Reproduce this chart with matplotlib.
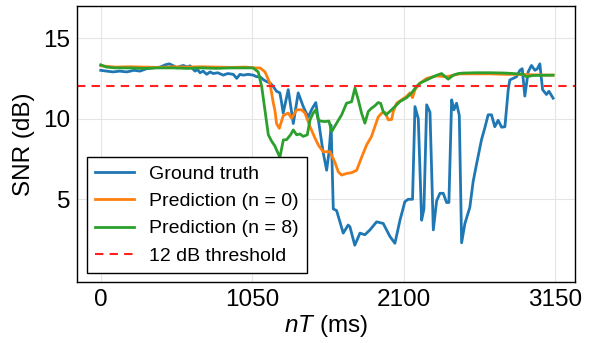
import matplotlib
matplotlib.use("Agg")
import matplotlib.pyplot as plt

plt.rcParams['font.family'] = ['Liberation Sans', 'DejaVu Sans']
plt.rcParams['mathtext.fontset'] = 'custom'
plt.rcParams['mathtext.rm'] = 'Liberation Sans'
plt.rcParams['mathtext.it'] = 'Liberation Sans:italic'

# ground truth SNR
t_gt = [0, 40, 87, 130, 180, 230, 272, 318, 360, 411, 450, 475, 500, 526, 550, 572, 600, 618, 653, 670,
        688, 710, 734, 757, 780, 810, 849, 880, 918, 942, 965, 988, 1020, 1057, 1080, 1103, 1130, 1150, 1175, 1195,
        1218, 1241, 1253, 1264, 1299, 1334, 1368, 1403, 1437, 1463, 1490, 1518, 1541, 1565, 1581, 1596, 1611, 1634, 1680, 1714,
        1726, 1760, 1796, 1830, 1865, 1911, 1957, 2003, 2038, 2073, 2107, 2130, 2160, 2177, 2200, 2223, 2239, 2258, 2281, 2304,
        2327, 2350, 2373, 2396, 2412, 2431, 2447, 2465, 2484, 2500, 2523, 2557, 2580, 2604, 2638, 2660, 2684, 2707, 2730, 2753,
        2777, 2800, 2823, 2834, 2857, 2880, 2904, 2920, 2938, 2961, 2984, 3008, 3025, 3042, 3061, 3088, 3105, 3134]
snr_gt = [13.0, 12.95, 12.9, 12.95, 12.9, 13.0, 12.95, 13.1, 13.15, 13.2, 13.35, 13.4, 13.3, 13.15, 13.25, 13.3, 13.2, 13.28, 12.95, 13.05,
          12.85, 12.95, 12.75, 12.9, 12.8, 12.85, 12.7, 12.8, 12.75, 12.5, 12.75, 12.7, 12.75, 12.7, 12.6, 12.6, 12.4, 12.3, 12.2, 12.0,
          11.7, 11.6, 11.0, 10.35, 11.8, 9.7, 11.6, 10.75, 10.1, 10.6, 11.0, 9.3, 7.9, 6.8, 7.9, 9.6, 4.4, 4.3, 2.9, 3.4,
          3.3, 2.15, 2.9, 2.8, 3.1, 3.6, 3.5, 2.7, 2.27, 3.7, 4.85, 5.0, 5.0, 10.75, 10.0, 3.7, 4.4, 10.86, 10.4, 3.1,
          4.9, 5.37, 5.37, 4.8, 4.8, 11.17, 10.55, 10.96, 10.2, 2.3, 3.5, 4.5, 6.1, 7.2, 8.7, 9.4, 10.24, 10.24, 9.5, 9.9,
          9.47, 9.5, 11.8, 12.4, 12.5, 12.6, 13.0, 13.1, 11.4, 12.9, 13.3, 13.0, 13.1, 13.4, 11.8, 11.5, 11.7, 11.27]

# prediction, n = 0
t_p0 = [0, 100, 200, 300, 400, 500, 600, 700, 800, 900, 1000, 1070, 1105, 1138, 1172, 1195, 1207, 1218, 1237, 1265,
        1299, 1322, 1357, 1391, 1415, 1450, 1484, 1507, 1541, 1588, 1622, 1646, 1669, 1703, 1738, 1773, 1807, 1842, 1876, 1899,
        1922, 1946, 1969, 1992, 2015, 2027, 2050, 2084, 2119, 2142, 2160, 2177, 2211, 2258, 2327, 2396, 2419, 2488, 2600, 2700,
        2800, 2900, 3000, 3134]
snr_p0 = [13.28, 13.2, 13.22, 13.2, 13.18, 13.22, 13.2, 13.22, 13.2, 13.18, 13.2, 13.15, 13.14, 12.9, 12.2, 11.0, 10.5, 9.7, 9.4, 10.2,
          10.35, 10.03, 10.55, 10.55, 10.35, 9.5, 8.8, 8.37, 7.95, 7.95, 7.3, 6.7, 6.5, 6.6, 6.65, 6.8, 7.6, 8.37, 8.9, 9.5,
          10.1, 10.34, 10.4, 9.93, 9.95, 10.45, 10.96, 11.17, 11.38, 11.6, 11.3, 11.8, 12.2, 12.5, 12.65, 12.6, 12.65, 12.78, 12.78, 12.78,
          12.75, 12.75, 12.72, 12.7]

# prediction, n = 8
t_p8 = [0, 40, 100, 200, 300, 400, 500, 600, 700, 800, 900, 1000, 1055, 1091, 1115, 1138, 1161, 1184, 1207, 1218,
        1241, 1265, 1288, 1315, 1334, 1357, 1380, 1403, 1431, 1450, 1472, 1490, 1507, 1523, 1553, 1581, 1600, 1634, 1669, 1703,
        1738, 1761, 1784, 1807, 1830, 1853, 1876, 1899, 1922, 1939, 1957, 1976, 2003, 2038, 2073, 2119, 2154, 2188, 2211, 2258,
        2315, 2361, 2407, 2442, 2477, 2511, 2600, 2700, 2800, 2857, 2927, 2949, 2996, 3134]
snr_p8 = [13.34, 13.2, 13.15, 13.15, 13.12, 13.15, 13.15, 13.12, 13.15, 13.12, 13.15, 13.15, 13.15, 12.9, 12.0, 10.5, 9.0, 8.6, 8.3, 8.06,
          7.6, 8.68, 8.7, 9.0, 9.3, 9.0, 9.05, 8.9, 9.0, 9.93, 10.35, 10.55, 9.93, 9.85, 9.82, 9.85, 9.2, 9.72, 10.24, 10.96,
          11.05, 11.9, 11.17, 10.34, 9.72, 10.44, 10.65, 10.8, 11.0, 10.95, 10.44, 10.24, 10.45, 10.75, 11.06, 11.3, 11.6, 12.0, 12.2, 12.4,
          12.65, 12.8, 12.45, 12.7, 12.8, 12.83, 12.85, 12.85, 12.83, 12.8, 12.75, 12.6, 12.68, 12.7]

threshold = 12
xticks = [0, 1050, 2100, 3150]
yticks = [5, 10, 15]

fig = plt.figure(figsize=(5.95, 3.43), dpi=100)
ax = fig.add_axes([0.130, 0.177, 0.836, 0.806])

ax.plot(t_gt, snr_gt, color='#1f77b4', lw=2, label='Ground truth')
ax.plot(t_p0, snr_p0, color='#ff7f0e', lw=2, label='Prediction (n = 0)')
ax.plot(t_p8, snr_p8, color='#2ca02c', lw=2, label='Prediction (n = 8)')
ax.axhline(threshold, color='#ff2020', ls='--', lw=1.5, dashes=(4, 3), label='12 dB threshold')

ax.set_xlim(-162, 3284)
ax.set_ylim(-0.15, 17)
ax.set_xticks(xticks)
ax.set_yticks(yticks)
ax.tick_params(labelsize=17.5, length=0, pad=5)
ax.grid(True, color='#e5e5e5', lw=0.8)
ax.set_axisbelow(True)
for s in ax.spines.values():
    s.set_color('black')
    s.set_linewidth(1)

ax.set_xlabel('$nT$ (ms)', fontsize=17.5, labelpad=1)
ax.set_ylabel('SNR (dB)', fontsize=17.5, labelpad=6)

leg = ax.legend(loc='lower left', fontsize=14, fancybox=False, framealpha=1,
                edgecolor='black', borderaxespad=0.5, handlelength=2.0)
leg.get_frame().set_linewidth(1)

fig.savefig('out.png', dpi=100)
